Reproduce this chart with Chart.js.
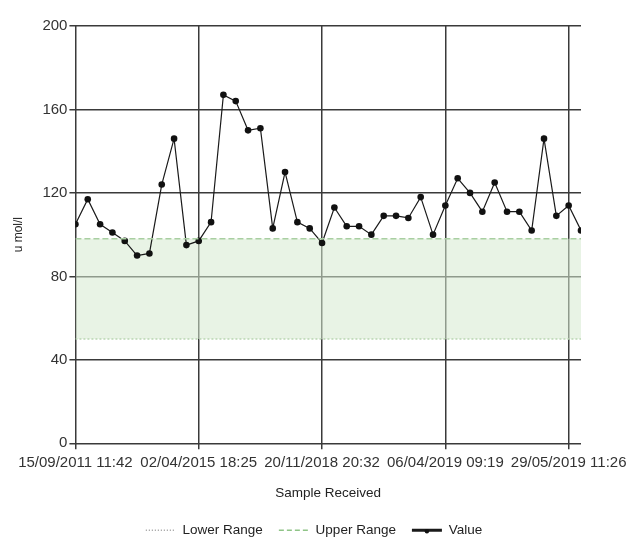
<!DOCTYPE html>
<html>
<head>
<meta charset="utf-8">
<script src="https://cdn.jsdelivr.net/npm/chart.js@4/dist/chart.umd.min.js"></script>
<style>
  html, body { margin: 0; padding: 0; background: #fff; }
  #wrap { width: 629px; height: 537px; }
</style>
</head>
<body>
<div id="wrap"><canvas id="resultChart"></canvas></div>
<script>
// values, one per sample (42 samples)
const values = [
  105, 117, 105, 101, 97, 90, 91, 124, 146, 95,
  97, 106, 167, 164, 150, 151, 103, 130, 106, 103,
  96, 113, 104, 104, 100, 109, 109, 108, 118, 100,
  114, 127, 120, 111, 125, 111, 111, 102, 146, 109,
  114, 102
];
const lowerRange = 50;
const upperRange = 98;
// x axis only labels every 10th sample
const tickIndex = [0, 10, 20, 30, 40];
const tickLabels = [
  "15/09/2011 11:42",
  "02/04/2015 18:25",
  "20/11/2018 20:32",
  "06/04/2019 09:19",
  "29/05/2019 11:26",
];

const FONT = "'Liberation Sans', Arial, sans-serif";
const GRID = "#3a3a3a";

const valuePoints = values.map((v, i) => ({ x: i, y: v }));
const lowerPoints = values.map((v, i) => ({ x: i, y: lowerRange }));
const upperPoints = values.map((v, i) => ({ x: i, y: upperRange }));

// legend sits centred on the whole canvas, not between the paddings,
// and the "Value" sample gets its marker dot
const legendTweaks = {
  id: "legendTweaks",
  afterLayout: (chart) => {
    const lg = chart.legend;
    if (!lg) return;
    lg.left += 18;
    lg.right += 18;
  },
  afterDraw: (chart) => {
    const boxes = chart.legend && chart.legend.legendHitBoxes;
    if (!boxes || !boxes[2]) return;
    const b = boxes[2];
    const { ctx } = chart;
    ctx.save();
    ctx.fillStyle = "#111";
    ctx.beginPath();
    ctx.arc(b.left + 15, b.top + b.height / 2 + 1, 2.2, 0, Math.PI * 2);
    ctx.fill();
    ctx.restore();
  },
};

const ctx = document.getElementById("resultChart").getContext("2d");
new Chart(ctx, {
  type: "line",
  data: {
    datasets: [
      {
        label: "Lower Range",
        data: lowerPoints,
        borderColor: "#b9d6b2",
        borderWidth: 1.5,
        borderDash: [2, 2],
        pointRadius: 0,
        fill: false,
      },
      {
        label: "Upper Range",
        data: upperPoints,
        borderColor: "#a9cfa2",
        borderWidth: 1.5,
        borderDash: [6, 3],
        pointRadius: 0,
        backgroundColor: "rgba(214, 234, 207, 0.55)",
        fill: "-1",
      },
      {
        label: "Value",
        data: valuePoints,
        borderColor: "#1a1a1a",
        backgroundColor: "#111",
        borderWidth: 1.2,
        pointRadius: 3.3,
        pointBorderWidth: 0,
        pointBackgroundColor: "#111",
        tension: 0,
        fill: false,
      },
    ],
  },
  options: {
    responsive: true,
    maintainAspectRatio: false,
    animation: false,
    layout: { padding: { top: 26, right: 48, left: 11, bottom: -10 } },
    scales: {
      x: {
        type: "linear",
        min: 0,
        max: 41,
        afterBuildTicks: (scale) => {
          scale.ticks = tickIndex.map((v) => ({ value: v }));
        },
        afterFit: (scale) => {
          // labels may hang past the plot; the outer padding handles it
          scale.paddingLeft = 0;
          scale.paddingRight = 0;
        },
        ticks: {
          autoSkip: false,
          maxRotation: 0,
          color: "#333",
          font: { family: FONT, size: 15 },
          padding: 5,
          callback: (value) => tickLabels[tickIndex.indexOf(value)],
        },
        grid: { color: GRID, lineWidth: 1.5, tickLength: 6 },
        border: { display: false },
        title: {
          display: true,
          text: "Sample Received",
          color: "#222",
          font: { family: FONT, size: 13.5 },
          padding: { top: 8, bottom: 6 },
        },
      },
      y: {
        min: 0,
        max: 200,
        ticks: {
          stepSize: 40,
          color: "#333",
          font: { family: FONT, size: 15 },
          padding: 2,
        },
        grid: { color: GRID, lineWidth: 1.5, tickLength: 6 },
        border: { display: false },
        title: {
          display: true,
          text: "u mol/l",
          color: "#222",
          font: { family: FONT, size: 12 },
          padding: { top: 0, bottom: 15 },
        },
      },
    },
    plugins: {
      filler: { drawTime: "beforeDatasetsDraw" },
      legend: {
        position: "bottom",
        labels: {
          usePointStyle: true,
          pointStyle: "line",
          pointStyleWidth: 30,
          boxHeight: 8,
          color: "#222",
          font: { family: FONT, size: 13.5 },
          padding: 16,
          generateLabels: (chart) => {
            const items = Chart.defaults.plugins.legend.labels.generateLabels(chart);
            items[0].strokeStyle = "#9a9a9a";
            items[0].lineDash = [1, 2];
            items[1].strokeStyle = "#8fc487";
            items[1].lineDash = [5, 3];
            items[2].lineWidth = 3;
            return items;
          },
        },
      },
      tooltip: { enabled: false },
    },
  },
  plugins: [legendTweaks],
});
</script>
</body>
</html>
